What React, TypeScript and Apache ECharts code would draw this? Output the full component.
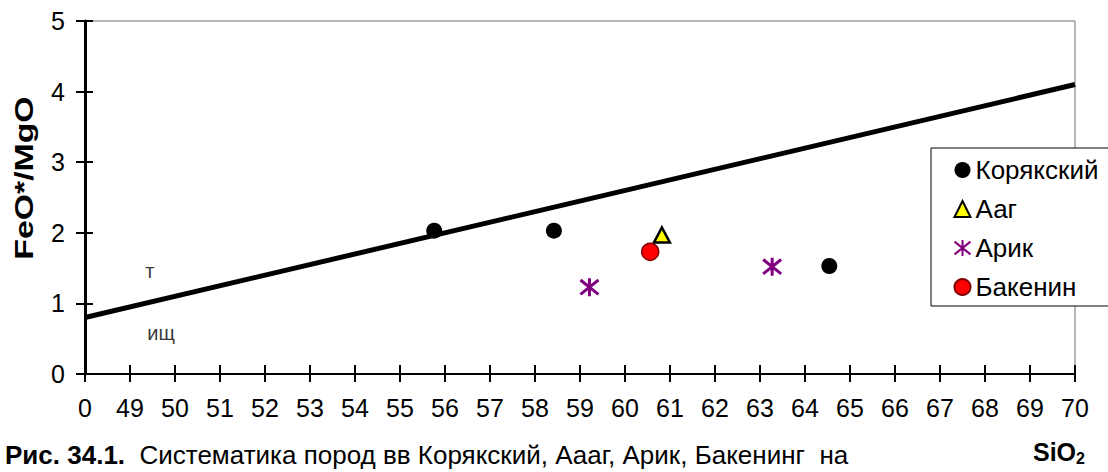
import React, { useEffect, useRef } from "react";
import * as echarts from "echarts";

const FONT = "'Liberation Sans', Arial, sans-serif";

const xTickLabels = ["0", "49", "50", "51", "52", "53", "54", "55", "56", "57", "58", "59", "60", "61", "62", "63", "64", "65", "66", "67", "68", "69", "70"];
const xMin = 48;
const xMax = 70;
const yMin = 0;
const yMax = 5;

const boundaryLine = [[48, 0.8], [70, 4.1]];
const koryakskiy = [[55.76, 2.03], [58.42, 2.03], [64.54, 1.53]];
const aag = [[60.82, 1.97]];
const arik = [[59.21, 1.23], [63.27, 1.52]];
const bakenin = [[60.56, 1.73]];
const fieldLabels = [
  { name: "т", value: [49.44, 1.46] },
  { name: "ищ", value: [49.69, 0.58] },
];

const ASTERISK = "path://M5,0L5,10M0,1L10,9M0,9L10,1";

export default function App() {
  const ref = useRef<HTMLDivElement>(null);
  useEffect(() => {
    if (!ref.current) return;
    const chart = echarts.init(ref.current, undefined, { renderer: "svg" });
    const baseX = {
      type: "value",
      min: xMin,
      max: xMax,
      interval: 1,
      splitLine: { show: false },
    };
    const baseY = {
      type: "value",
      min: yMin,
      max: yMax,
      interval: 1,
      splitLine: { show: false },
    };
    chart.setOption({
      animation: false,
      backgroundColor: "#ffffff",
      textStyle: { fontFamily: FONT },
      grid: {
        left: 85,
        right: 33,
        top: 21,
        bottom: 98,
        show: true,
        borderColor: "#707070",
        borderWidth: 1,
        backgroundColor: "transparent",
      },
      xAxis: [
        {
          ...baseX,
          position: "bottom",
          axisLine: { lineStyle: { color: "#000", width: 2 } },
          axisTick: { show: true, inside: false, length: 8, lineStyle: { color: "#000", width: 2 } },
          axisLabel: {
            color: "#000",
            fontSize: 25,
            fontFamily: FONT,
            margin: 21,
            formatter: (v: number) => xTickLabels[Math.round(v - xMin)] ?? "",
          },
        },
        {
          ...baseX,
          position: "bottom",
          axisLine: { show: false },
          axisTick: { show: true, inside: true, length: 9, lineStyle: { color: "#000", width: 2 } },
          axisLabel: { show: false },
        },
      ],
      yAxis: [
        {
          ...baseY,
          position: "left",
          axisLine: { lineStyle: { color: "#000", width: 3 } },
          axisTick: { show: true, inside: false, length: 9, lineStyle: { color: "#000", width: 2 } },
          axisLabel: { color: "#000", fontSize: 25, fontFamily: FONT, margin: 20 },
        },
        {
          ...baseY,
          position: "left",
          axisLine: { show: false },
          axisTick: { show: true, inside: true, length: 8, lineStyle: { color: "#000", width: 2 } },
          axisLabel: { show: false },
        },
      ],
      legend: {
        orient: "vertical",
        left: 931,
        top: 148,
        padding: [9, 30, 6, 21],
        borderColor: "#000",
        borderWidth: 1,
        backgroundColor: "#fff",
        itemGap: 13,
        itemWidth: 16,
        itemHeight: 16,
        textStyle: { fontSize: 26, color: "#000", fontFamily: FONT },
        data: ["Корякский", "Ааг", "Арик", "Бакенин"],
      },
      series: [
        {
          name: "boundary",
          type: "line",
          data: boundaryLine,
          symbol: "none",
          lineStyle: { color: "#000", width: 5 },
          silent: true,
        },
        {
          name: "labels",
          type: "scatter",
          data: fieldLabels,
          symbolSize: 0,
          label: {
            show: true,
            position: "inside",
            formatter: "{b}",
            color: "#000",
            fontSize: 20,
            fontFamily: FONT,
          },
        },
        {
          name: "Корякский",
          type: "scatter",
          data: koryakskiy,
          symbol: "circle",
          symbolSize: 16,
          itemStyle: { color: "#000", borderColor: "#000", borderWidth: 0, opacity: 1 },
        },
        {
          name: "Ааг",
          type: "scatter",
          data: aag,
          symbol: "triangle",
          symbolSize: [16, 15],
          itemStyle: { color: "#ffff00", borderColor: "#000", borderWidth: 2.5, opacity: 1 },
        },
        {
          name: "Арик",
          type: "scatter",
          data: arik,
          symbol: ASTERISK,
          symbolSize: 18,
          itemStyle: { color: "none", borderColor: "#800080", borderWidth: 3, opacity: 1 },
        },
        {
          name: "Бакенин",
          type: "scatter",
          data: bakenin,
          symbol: "circle",
          symbolSize: 17,
          itemStyle: { color: "#ff0000", borderColor: "#800000", borderWidth: 1.5, opacity: 1 },
        },
      ],
      graphic: [
        {
          type: "text",
          x: 24,
          y: 178,
          rotation: Math.PI / 2,
          scaleX: 1.3,
          style: {
            text: "FeO*/MgO",
            fontSize: 26,
            fontWeight: "bold",
            fontFamily: FONT,
            fill: "#000",
            align: "center",
            verticalAlign: "middle",
          },
        },
        {
          type: "text",
          x: 5,
          y: 455,
          style: {
            text: "{b|Рис. 34.1.}  Систематика пород вв Корякский, Аааг, Арик, Бакенинг  на",
            fontSize: 26,
            fontFamily: FONT,
            fill: "#000",
            verticalAlign: "middle",
            rich: {
              b: { fontWeight: "bold", fontSize: 26, fontFamily: FONT, fill: "#000" },
            },
          },
        },
        {
          type: "text",
          x: 1033,
          y: 452,
          style: {
            text: "SiO{s|2}",
            fontSize: 25,
            fontWeight: "bold",
            fontFamily: FONT,
            fill: "#000",
            verticalAlign: "middle",
            rich: {
              s: { fontSize: 16, fontWeight: "bold", fontFamily: FONT, fill: "#000", padding: [12, 0, 0, 0] },
            },
          },
        },
      ],
    });
    return () => chart.dispose();
  }, []);
  return <div ref={ref} style={{ position: "absolute", left: 0, top: 0, width: 1108, height: 472 }} />;
}
